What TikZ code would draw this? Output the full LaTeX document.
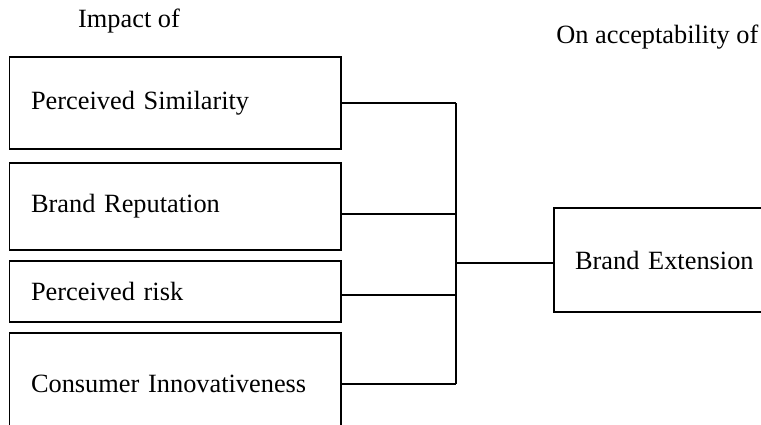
\documentclass[tikz,border=0pt]{standalone}
\usepackage{fontspec}
\setmainfont{Liberation Serif}
\usepackage{tikz}
\usetikzlibrary{positioning,calc}

\begin{document}
\begin{tikzpicture}[
  x=0.02cm,y=-0.02cm,
  font=\fontsize{15}{18}\selectfont,
  factor/.style={draw,line width=1pt,minimum width=6.63cm,text width=5.77cm,inner xsep=0.43cm,align=left},
  outcome/.style={draw,line width=1pt,minimum width=4.42cm,text width=3.58cm,inner xsep=0.42cm,align=left,minimum height=2.08cm},
  caption/.style={inner sep=0pt},
  link/.style={line width=1pt}]

  % Seitenrahmen
  \useasboundingbox (0,0) rectangle (761,424);
  \clip (0,0) rectangle (761,424);

  % Einflussfaktoren
  \node[factor,minimum height=1.84cm] (sim) at (175.25,103) {Perceived Similarity};
  \node[factor,minimum height=1.74cm] (rep) at (175.25,206.5) {Brand Reputation};
  \node[factor,minimum height=1.22cm] (risk) at (175.25,291.5) {Perceived risk};
  \node[factor,minimum height=2.04cm] (inno) at (175.25,384) {Consumer Innovativeness};

  % Ziel
  \node[outcome] (ext) at (664.5,260) {Brand Extension};

  \node[caption] (impact) at (129,21) {Impact of};
  \node[caption,anchor=west] (accept) at (556,37) {On acceptability of};

  % Sammelleitung
  \coordinate (bus) at (456,0);
  \draw[link] (sim.east) -- (sim.east -| bus);
  \draw[link] ([yshift=-0.15cm]rep.east) -- ([yshift=-0.15cm]rep.east -| bus);
  \draw[link] ([yshift=-0.07cm]risk.east) -- ([yshift=-0.07cm]risk.east -| bus);
  \draw[link] (inno.east) -- (inno.east -| bus);
  \draw[link] (sim.east -| bus) -- (inno.east -| bus);
  \draw[link] ([yshift=-0.06cm]ext.west) -- ([yshift=-0.06cm]ext.west -| bus);

\end{tikzpicture}
\end{document}
